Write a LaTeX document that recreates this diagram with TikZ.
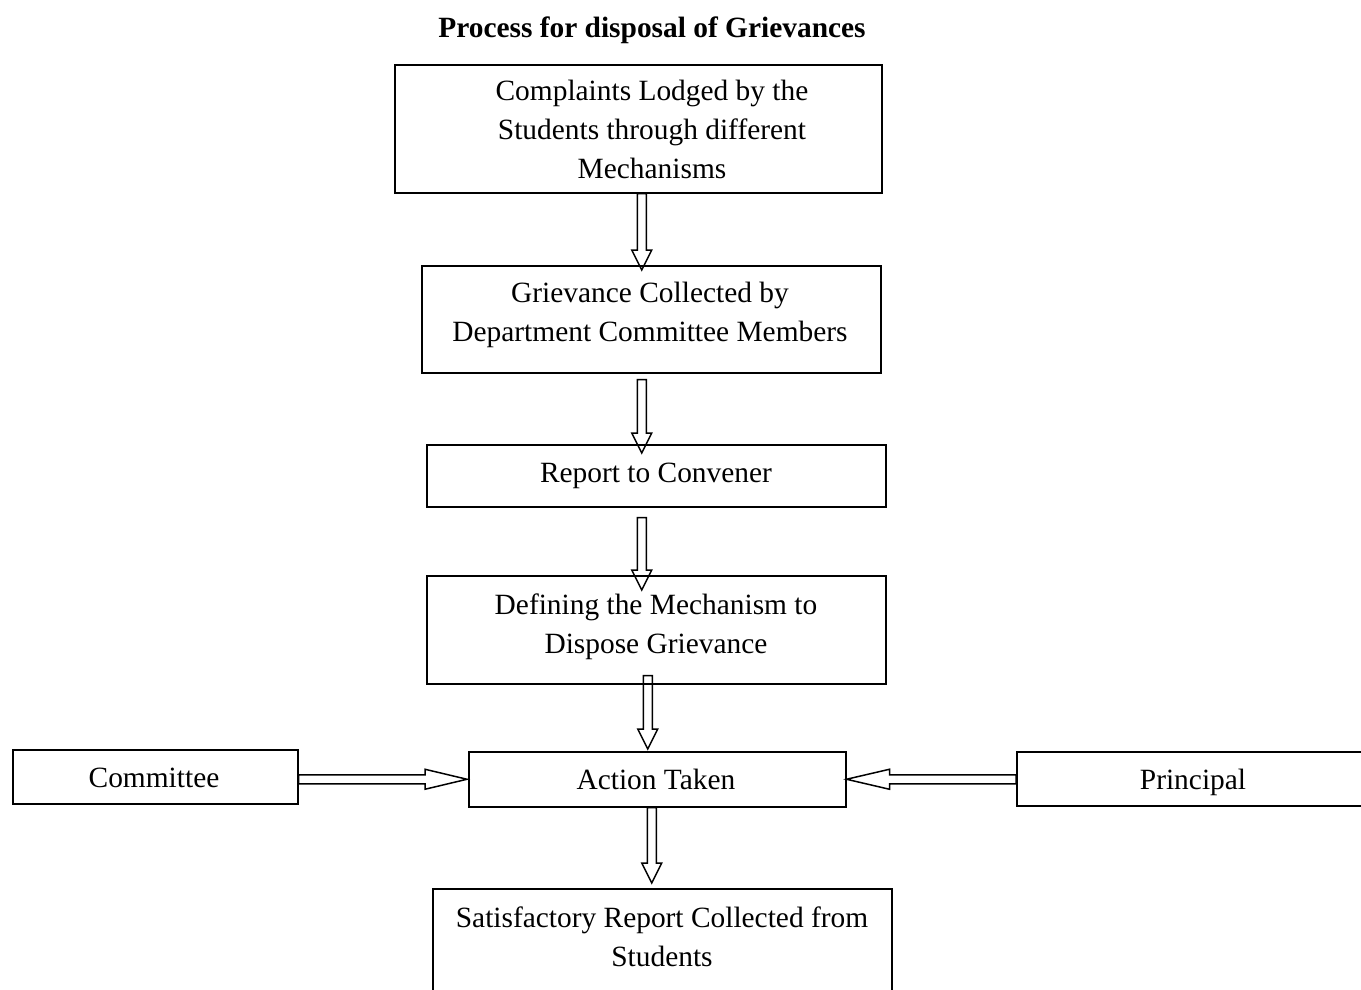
\documentclass[tikz,border=0pt]{standalone}
\usepackage{fontspec}
\setmainfont{Liberation Serif}
\usetikzlibrary{calc}

\tikzset{
  box/.style={draw, line width=1.5pt, rectangle, inner sep=0pt, anchor=north west},
  txt/.style={align=center, font=\fontsize{29.4}{39}\selectfont, inner sep=0pt},
  flow/.style={draw, line width=1.5pt, line join=miter},
  % hollow block arrow: shaft half-width 4.5pt, head half-width 10pt, head length #1
  blockarrow/.style={to path={
    ($(\tikztostart)!4.5pt!90:(\tikztotarget)$)
    -- ($(\tikztotarget)!#1!(\tikztostart)!4.5pt!-90:(\tikztostart)$)
    -- ($(\tikztotarget)!#1!(\tikztostart)!10pt!-90:(\tikztostart)$)
    -- (\tikztotarget)
    -- ($(\tikztotarget)!#1!(\tikztostart)!10pt!90:(\tikztostart)$)
    -- ($(\tikztotarget)!#1!(\tikztostart)!4.5pt!90:(\tikztostart)$)
    -- ($(\tikztostart)!4.5pt!-90:(\tikztotarget)$)
    -- cycle}},
  blockarrow/.default=20pt,
}

\begin{document}
\begin{tikzpicture}[x=1pt, y=-1pt]
  \useasboundingbox (0,0) rectangle (1361,989);
  \clip (0,0) rectangle (1361,989);

  % title
  \node[txt, font=\fontsize{29.4}{39}\selectfont\bfseries] (title) at (652,30) {Process for disposal of Grievances};

  % main column of boxes
  \node[box, minimum width=487pt, minimum height=128pt] (c1) at (394,64) {};
  \node[txt] (c1t) at (652,129) {Complaints Lodged by the\\Students through different\\Mechanisms};

  \node[box, minimum width=459pt, minimum height=107pt] (c2) at (421,265) {};
  \node[txt] (c2t) at (650,314.5) {Grievance Collected by\\Department Committee Members};

  \node[box, minimum width=459pt, minimum height=62pt] (c3) at (426,444) {};
  \node[txt] (c3t) at (656,475.5) {Report to Convener};

  \node[box, minimum width=459pt, minimum height=108pt] (c4) at (426,575) {};
  \node[txt] (c4t) at (656,626.5) {Defining the Mechanism to\\Dispose Grievance};

  \node[box, minimum width=377pt, minimum height=55pt] (c5) at (468,751) {};
  \node[txt] (c5t) at (656,779) {Action Taken};

  \node[box, minimum width=459pt, minimum height=130pt] (c6) at (432,888) {};
  \node[txt] (c6t) at (662,936.5) {Satisfactory Report Collected from\\Students};

  % side boxes
  \node[box, minimum width=285pt, minimum height=54pt] (k) at (12,749) {};
  \node[txt] (kt) at (154,778) {Committee};

  \node[box, minimum width=370pt, minimum height=54pt] (p) at (1016,751) {};
  \node[txt] (pt) at (1193,782) {Principal};

  % vertical flow arrows
  \draw[flow] ([xshift=3.5pt]c1.south) to[blockarrow] ([xshift=-9.5pt, yshift=-5pt]c2.north);
  \draw[flow] ([xshift=-9.5pt, yshift=-6pt]c2.south) to[blockarrow] ([xshift=-14.5pt, yshift=-9pt]c3.north);
  \draw[flow] ([xshift=-14.5pt, yshift=-10pt]c3.south) to[blockarrow] ([xshift=-14.5pt, yshift=-15pt]c4.north);
  \draw[flow] ([xshift=-8.5pt, yshift=9pt]c4.south) to[blockarrow] ([xshift=-9.5pt, yshift=2pt]c5.north);
  \draw[flow] ([xshift=-5.5pt]c5.south) to[blockarrow] ([xshift=-10.5pt, yshift=5pt]c6.north);

  % side arrows into the action box
  \draw[flow] (k.east |- c5.west) to[blockarrow=42pt] ([xshift=-1pt]c5.west);
  \draw[flow] (p.west |- c5.east) to[blockarrow=43pt] (c5.east);
\end{tikzpicture}
\end{document}
